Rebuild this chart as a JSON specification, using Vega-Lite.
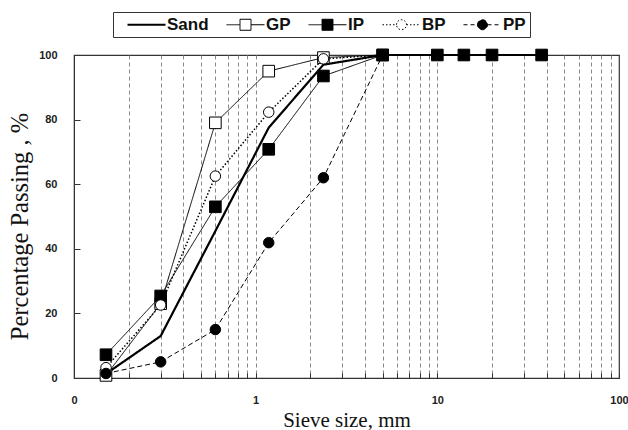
{
  "$schema": "https://vega.github.io/schema/vega-lite/v6.json",
  "width": 545,
  "height": 323,
  "autosize": {"type": "none"},
  "padding": {"left": 74, "top": 55, "right": 9, "bottom": 52},
  "background": "white",
  "config": {
    "view": {"stroke": "#333", "strokeWidth": 1.2},
    "axis": {"labelFont": "Liberation Sans", "labelFontWeight": "bold", "labelFontSize": 11, "labelColor": "#222", "titleFont": "Liberation Serif", "titleFontWeight": "normal", "titleColor": "#111", "domainColor": "#333", "tickColor": "#333"}
  },
  "data": {
    "values": [
      {"series": "Sand", "size": 0.15, "pass": 1.3},
      {"series": "Sand", "size": 0.3, "pass": 13},
      {"series": "Sand", "size": 0.6, "pass": 45.5},
      {"series": "Sand", "size": 1.18, "pass": 77.5},
      {"series": "Sand", "size": 2.36, "pass": 97},
      {"series": "Sand", "size": 5, "pass": 100},
      {"series": "Sand", "size": 10, "pass": 100},
      {"series": "Sand", "size": 14, "pass": 100},
      {"series": "Sand", "size": 20, "pass": 100},
      {"series": "Sand", "size": 37.5, "pass": 100},
      {"series": "GP", "size": 0.15, "pass": 0.8},
      {"series": "GP", "size": 0.3, "pass": 23},
      {"series": "GP", "size": 0.6, "pass": 79},
      {"series": "GP", "size": 1.18, "pass": 95},
      {"series": "GP", "size": 2.36, "pass": 99.2},
      {"series": "GP", "size": 5, "pass": 100},
      {"series": "IP", "size": 0.15, "pass": 7.2},
      {"series": "IP", "size": 0.3, "pass": 25.4},
      {"series": "IP", "size": 0.6, "pass": 53},
      {"series": "IP", "size": 1.18, "pass": 70.8},
      {"series": "IP", "size": 2.36, "pass": 93.5},
      {"series": "IP", "size": 5, "pass": 100},
      {"series": "IP", "size": 10, "pass": 100},
      {"series": "IP", "size": 14, "pass": 100},
      {"series": "IP", "size": 20, "pass": 100},
      {"series": "IP", "size": 37.5, "pass": 100},
      {"series": "BP", "size": 0.15, "pass": 3.2},
      {"series": "BP", "size": 0.3, "pass": 22.6},
      {"series": "BP", "size": 0.6, "pass": 62.5},
      {"series": "BP", "size": 1.18, "pass": 82.3},
      {"series": "BP", "size": 2.36, "pass": 98.8},
      {"series": "BP", "size": 5, "pass": 100},
      {"series": "PP", "size": 0.15, "pass": 1.4},
      {"series": "PP", "size": 0.3, "pass": 5},
      {"series": "PP", "size": 0.6, "pass": 15},
      {"series": "PP", "size": 1.18, "pass": 41.9},
      {"series": "PP", "size": 2.36, "pass": 62},
      {"series": "PP", "size": 5, "pass": 100}
    ]
  },
  "encoding": {
    "x": {
      "field": "size", "type": "quantitative",
      "scale": {"type": "log", "domain": [0.1, 100], "nice": false},
      "axis": {
        "title": "Sieve size, mm",
        "titleFontSize": 21,
        "titlePadding": 4,
        "values": [0.1, 0.2, 0.3, 0.4, 0.5, 0.6, 0.7, 0.8, 0.9, 1, 2, 3, 4, 5, 6, 7, 8, 9, 10, 20, 30, 40, 50, 60, 70, 80, 90, 100],
        "labelExpr": "datum.value == 0.1 ? '0' : (datum.value == 1 || datum.value == 10 || datum.value == 100) ? format(datum.value, 'd') : ''",
        "labelFlush": false,
        "labelOverlap": false,
        "tickSize": -5,
        "labelPadding": 21,
        "grid": true,
        "gridColor": "#888",
        "gridDash": [4, 3],
        "gridWidth": 1,
        "gridOpacity": {"condition": {"test": "datum.value == 0.1 || datum.value == 100", "value": 0}, "value": 1}
      }
    },
    "y": {
      "field": "pass", "type": "quantitative",
      "scale": {"domain": [0, 100], "nice": false},
      "axis": {
        "title": "Percentage Passing , %",
        "titleFontSize": 24.5,
        "titlePadding": 6,
        "titleY": 171,
        "values": [0, 20, 40, 60, 80, 100],
        "tickSize": -6,
        "labelPadding": 23,
        "grid": false
      }
    }
  },
  "layer": [
    {
      "mark": {"type": "line", "color": "black"},
      "encoding": {
        "detail": {"field": "series"},
        "strokeDash": {"field": "series", "type": "nominal", "scale": {"domain": ["Sand", "GP", "IP", "BP", "PP"], "range": [[1, 0], [1, 0], [1, 0], [1.5, 2], [5, 3]]}, "legend": null},
        "strokeWidth": {"field": "series", "type": "nominal", "scale": {"type": "ordinal", "domain": ["Sand", "GP", "IP", "BP", "PP"], "range": [2.2, 1, 1, 1.5, 1]}, "legend": null}
      }
    },
    {
      "transform": [{"filter": "datum.series != 'Sand'"}],
      "mark": {"type": "point", "stroke": "black", "strokeWidth": 1, "opacity": 1},
      "encoding": {
        "shape": {"field": "series", "type": "nominal", "scale": {"domain": ["GP", "IP", "BP", "PP"], "range": ["square", "square", "circle", "circle"]}, "legend": null},
        "fill": {"field": "series", "type": "nominal", "scale": {"domain": ["Sand", "GP", "IP", "BP", "PP"], "range": ["black", "white", "black", "white", "black"]}, "legend": null},
        "size": {"field": "series", "type": "nominal", "scale": {"type": "ordinal", "domain": ["GP", "IP", "BP", "PP"], "range": [135, 135, 110, 110]}, "legend": null}
      }
    },
    {
      "mark": {
        "type": "point", "opacity": 0, "stroke": "black",
        "fill": {"expr": "datum.value == 'GP' || datum.value == 'BP' ? 'white' : 'black'"}
      },
      "encoding": {
        "shape": {
          "field": "series", "type": "nominal",
          "scale": {"domain": ["Sand", "GP", "IP", "BP", "PP"], "range": [
            "M0.2,0H4",
            "M0.2,0H1.55M2.65,0H4M1.55,-0.55H2.65V0.55H1.55Z",
            "M0.2,0H1.55M2.65,0H4M1.55,-0.55H2.65V0.55H1.55Z",
            "M0.2,0H1.6M2.6,0H4M1.6,0A0.5,0.5 0 1,1 2.6,0A0.5,0.5 0 1,1 1.6,0Z",
            "M0.2,0H1.6M2.6,0H4M1.6,0A0.5,0.5 0 1,1 2.6,0A0.5,0.5 0 1,1 1.6,0Z"
          ]},
          "legend": {
            "orient": "none", "legendX": 39, "legendY": -43, "direction": "horizontal", "columns": 5, "title": null,
            "symbolSize": 400, "symbolOpacity": 1,
            "symbolDash": {"expr": "datum.value == 'BP' ? [1.5, 2] : datum.value == 'PP' ? [4, 3] : [1, 0]"},
            "symbolStrokeWidth": {"expr": "datum.value == 'Sand' ? 2.2 : 1"},
            "labelFont": "Liberation Sans", "labelFontWeight": "bold", "labelFontSize": 17, "labelColor": "#111",
            "labelOffset": 33, "columnPadding": 7, "strokeColor": "#333", "padding": 4
          }
        }
      }
    }
  ],
  "resolve": {"scale": {"shape": "independent", "size": "independent"}}
}
